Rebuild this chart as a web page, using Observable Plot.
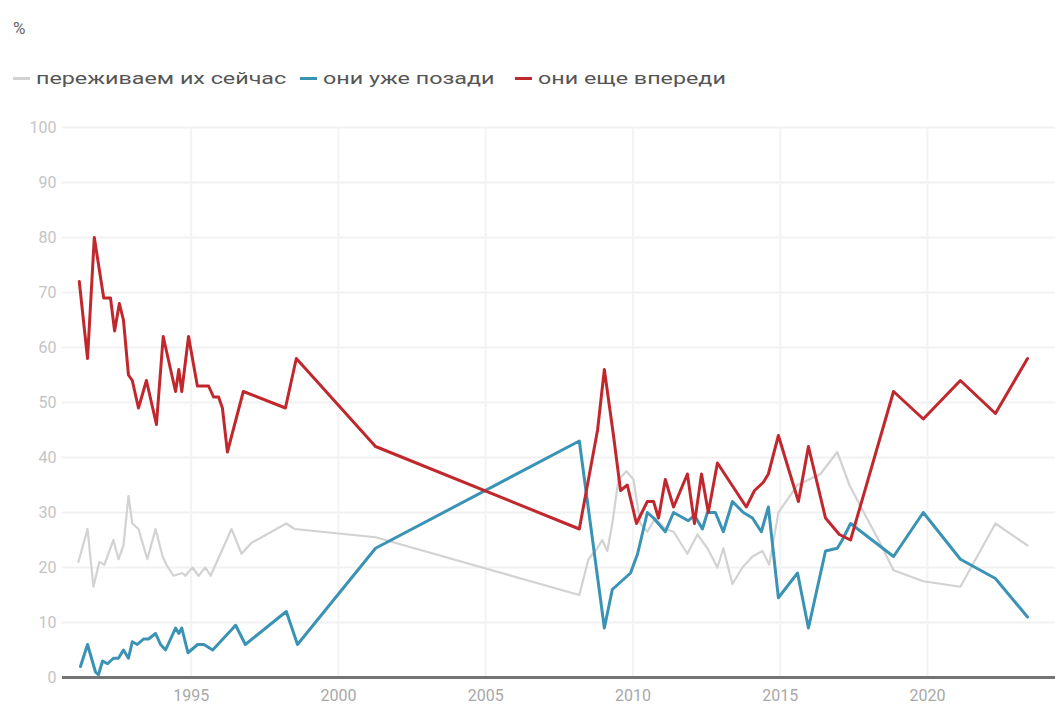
<!DOCTYPE html>
<html>
<head>
<meta charset="utf-8">
<script src="https://cdn.jsdelivr.net/npm/d3@7"></script>
<script src="https://cdn.jsdelivr.net/npm/@observablehq/plot@0.6"></script>
<style>
  html, body { margin: 0; padding: 0; background: #fff; width: 1055px; height: 712px; overflow: hidden; font-family: Roboto, "Noto Sans", sans-serif; }
  #unit { position: absolute; left: 13px; top: 18px; font-size: 17px; color: #666; }
  #legend { position: absolute; left: 0; top: 66px; width: 1055px; height: 24px; font-size: 17px; color: #555; }
  .item { position: absolute; top: 0; display: flex; align-items: center; height: 24px; white-space: nowrap; }
  .sw { width: 17px; height: 3px; margin-right: 6px; flex: none; }
  .tx { display: inline-block; transform: scaleX(1.37); transform-origin: left center; }
  #chart { position: absolute; left: 0; top: 110px; }
</style>
</head>
<body>
<div id="unit">%</div>
<div id="legend"></div>
<div id="chart"></div>
<script>
const seriesNames = ["переживаем их сейчас", "они уже позади", "они еще впереди"];
const seriesColors = ["#d2d2d2", "#3a93b4", "#c1282d"];

const grayT = [1991.17,1991.48,1991.68,1991.88,1992.05,1992.36,1992.53,1992.70,1992.87,1993.00,1993.21,1993.51,1993.79,1994.03,1994.16,1994.40,1994.70,1994.80,1995.04,1995.25,1995.48,1995.66,1996.37,1996.71,1997.05,1998.23,1998.51,2001.26,2008.18,2008.49,2008.79,2008.96,2009.13,2009.30,2009.51,2009.78,2010.02,2010.25,2010.49,2010.76,2011.10,2011.38,2011.85,2012.19,2012.53,2012.87,2013.07,2013.38,2013.72,2014.06,2014.40,2014.63,2014.94,2015.59,2016.37,2016.94,2017.35,2017.89,2018.34,2018.85,2019.86,2021.12,2022.31,2023.40];
const grayV = [21,27,16.5,21,20.5,25,21.5,24,33,28,27,21.5,27,22,20.5,18.5,19,18.5,20,18.5,20,18.5,27,22.5,24.5,28,27,25.5,15,21.5,23.5,25,23,28,36,37.5,36,28,26.5,29,27,26.5,22.5,26,23.5,20,23.5,17,20,22,23,20.5,30,35,37,41,35,29.5,25,19.5,17.5,16.5,28,24];

const blueT = [1991.24,1991.48,1991.75,1991.85,1991.99,1992.16,1992.36,1992.53,1992.70,1992.87,1993.00,1993.17,1993.38,1993.55,1993.79,1993.96,1994.13,1994.30,1994.47,1994.58,1994.68,1994.89,1995.22,1995.43,1995.73,1996.51,1996.84,1998.23,1998.61,2001.26,2008.18,2009.03,2009.30,2009.61,2009.92,2010.16,2010.49,2010.70,2011.10,2011.38,2011.88,2012.09,2012.36,2012.53,2012.80,2013.07,2013.38,2013.75,2014.06,2014.36,2014.60,2014.94,2015.59,2015.96,2016.54,2016.94,2017.11,2017.39,2018.85,2019.86,2021.12,2022.31,2023.40];
const blueV = [2,6,1,0.5,3,2.5,3.5,3.5,5,3.5,6.5,6,7,7,8,6,5,7,9,8,9,4.5,6,6,5,9.5,6,12,6,23.5,43,9,16,17.5,19,22.5,30,29,26.5,30,28.5,29.5,27,30,30,26.5,32,30,29,26.5,31,14.5,19,9,23,23.5,25,28,22,30,21.5,18,11];

const redT = [1991.20,1991.48,1991.71,1992.03,1992.26,1992.40,1992.56,1992.70,1992.87,1993.00,1993.21,1993.48,1993.82,1994.05,1994.30,1994.47,1994.58,1994.68,1994.91,1995.21,1995.59,1995.76,1995.93,1996.06,1996.23,1996.77,1998.20,1998.57,2001.26,2008.18,2008.80,2009.03,2009.34,2009.58,2009.81,2010.12,2010.49,2010.70,2010.87,2011.10,2011.38,2011.85,2012.09,2012.33,2012.56,2012.87,2013.85,2014.13,2014.43,2014.60,2014.94,2015.62,2015.96,2016.54,2017.01,2017.39,2018.85,2019.86,2021.12,2022.31,2023.40];
const redV = [72,58,80,69,69,63,68,65,55,54,49,54,46,62,56,52,56,52,62,53,53,51,51,49,41,52,49,58,42,27,45,56,44,34,35,28,32,32,29,36,31,37,28,37,30,39,31,34,35.5,37,44,32,42,29,26,25,52,47,54,48,58];

const xTicks = [1995, 2000, 2005, 2010, 2015, 2020];
const yTicks = [0, 10, 20, 30, 40, 50, 60, 70, 80, 90, 100];
const legendLeft = [13, 300, 515];

const rows = [];
[[grayT, grayV], [blueT, blueV], [redT, redV]].forEach(([T, V], i) => {
  T.forEach((t, j) => rows.push({series: seriesNames[i], year: t, value: V[j]}));
});

const legend = document.getElementById("legend");
seriesNames.forEach((n, i) => {
  const it = document.createElement("div"); it.className = "item"; it.style.left = legendLeft[i] + "px";
  const sw = document.createElement("span"); sw.className = "sw"; sw.style.background = seriesColors[i];
  const tx = document.createElement("span"); tx.className = "tx"; tx.textContent = n;
  it.appendChild(sw); it.appendChild(tx); legend.appendChild(it);
});

const chart = Plot.plot({
  width: 1055,
  height: 602,
  marginTop: 17,
  marginBottom: 35,
  marginLeft: 62,
  marginRight: 0,
  style: {fontFamily: "Roboto, sans-serif", background: "transparent"},
  x: {domain: [1990.63, 2024.35], ticks: xTicks, tickFormat: d => String(d), tickSize: 0, tickPadding: 12, label: null},
  y: {domain: [0, 100], ticks: yTicks, tickSize: 0, tickPadding: 6, label: null},
  marks: [
    Plot.ruleY(yTicks.filter(d => d > 0), {stroke: "#f1f1f1", strokeWidth: 2}),
    Plot.ruleX(xTicks, {stroke: "#f3f3f3", strokeWidth: 2}),
    Plot.axisY({ticks: yTicks, tickSize: 0, tickPadding: 6, fontSize: 16, color: "#c4c4c4"}),
    Plot.axisX({ticks: xTicks, tickFormat: d => String(d), tickSize: 0, tickPadding: 12, fontSize: 16, color: "#a8a8a8"}),
    Plot.ruleY([0], {stroke: "#747474", strokeWidth: 3}),
    Plot.line(rows.filter(d => d.series === seriesNames[0]), {x: "year", y: "value", stroke: seriesColors[0], strokeWidth: 2.2}),
    Plot.line(rows.filter(d => d.series === seriesNames[1]), {x: "year", y: "value", stroke: seriesColors[1], strokeWidth: 3}),
    Plot.line(rows.filter(d => d.series === seriesNames[2]), {x: "year", y: "value", stroke: seriesColors[2], strokeWidth: 3})
  ]
});
document.getElementById("chart").appendChild(chart);
</script>
</body>
</html>
